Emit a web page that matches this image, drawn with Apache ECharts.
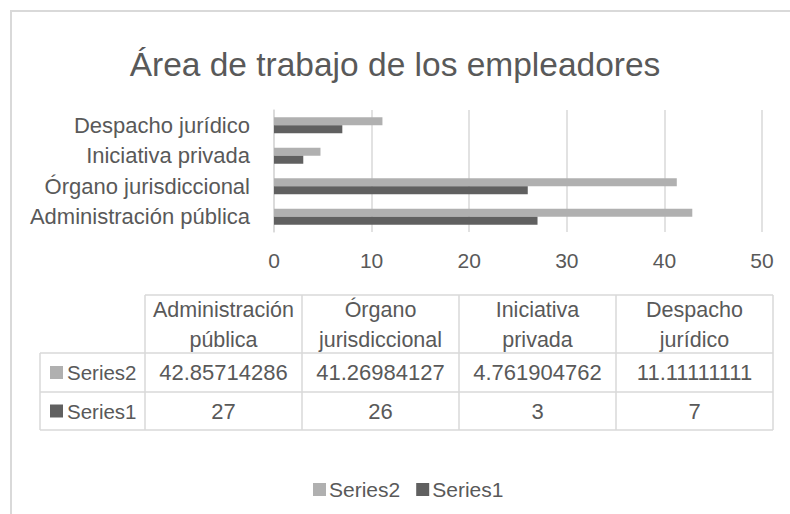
<!DOCTYPE html>
<html>
<head>
<meta charset="utf-8">
<script src="https://cdn.jsdelivr.net/npm/echarts@6/dist/echarts.min.js"></script>
<style>
  html, body { margin: 0; padding: 0; background: #fff; }
  #chart { width: 790px; height: 514px; }
</style>
</head>
<body>
<div id="chart"></div>
<script>
// datos
const categories = ['Administración pública', 'Órgano jurisdiccional', 'Iniciativa privada', 'Despacho jurídico'];
const series1 = [27, 26, 3, 7];
const series2 = [42.85714286, 41.26984127, 4.761904762, 11.11111111];
const seriesNames = ['Series2', 'Series1'];
const xTicks = [0, 10, 20, 30, 40, 50];

const TEXT = '#595959';
const LINE = '#d9d9d9';
const LIGHT = '#b0b0b0';
const DARK = '#606060';
const FONT = '"Liberation Sans", Arial, sans-serif';

// tabla de datos (debajo del gráfico)
function buildTable () {
  const els = [];
  const x0 = 40, x1 = 145, xEnd = 773;
  const colW = (xEnd - x1) / categories.length;
  const yTop = 295, yHead = 353, yMid = 392, yBot = 430;
  const ln = (a, b, c, d) => ({
    type: 'line', silent: true,
    shape: { x1: a, y1: b, x2: c, y2: d },
    style: { stroke: LINE, lineWidth: 1.5 }
  });
  els.push(ln(x1, yTop, xEnd, yTop));
  els.push(ln(x0, yHead, xEnd, yHead));
  els.push(ln(x0, yMid, xEnd, yMid));
  els.push(ln(x0, yBot, xEnd, yBot));
  els.push(ln(x0, yHead, x0, yBot));
  for (let i = 0; i <= categories.length; i++) {
    els.push(ln(x1 + colW * i, yTop, x1 + colW * i, yBot));
  }
  const txt = (x, y, s, size, align) => ({
    type: 'text', silent: true, x: x, y: y,
    style: { text: s, fill: TEXT, font: size + 'px ' + FONT, align: align || 'center', verticalAlign: 'middle', lineHeight: 30 }
  });
  categories.forEach((c, i) => {
    els.push(txt(x1 + colW * (i + 0.5), (yTop + yHead) / 2 + 1, c.replace(' ', '\n'), 21.5));
  });
  const rows = [[seriesNames[0], series2, LIGHT, yHead, yMid], [seriesNames[1], series1, DARK, yMid, yBot]];
  rows.forEach(r => {
    const cy = (r[3] + r[4]) / 2;
    els.push({ type: 'rect', silent: true, shape: { x: 50, y: cy - 6.5, width: 13, height: 13 }, style: { fill: r[2] } });
    els.push(txt(67, cy, r[0], 20.5, 'left'));
    r[1].forEach((v, i) => {
      els.push(txt(x1 + colW * (i + 0.5), cy, String(v), 22));
    });
  });
  // borde exterior
  els.push({ type: 'polyline', silent: true, shape: { points: [[11, 520], [11, 11], [800, 11]] }, style: { stroke: LINE, lineWidth: 2, fill: null } });
  return els;
}

const chart = echarts.init(document.getElementById('chart'), null, { renderer: 'svg' });
chart.setOption({
  backgroundColor: '#fff',
  animation: false,
  textStyle: { fontFamily: FONT },
  title: {
    text: 'Área de trabajo de los empleadores',
    left: 'center',
    top: 42,
    textStyle: { color: TEXT, fontSize: 33.5, fontWeight: 'normal', fontFamily: FONT }
  },
  legend: {
    data: seriesNames,
    left: 308,
    top: 474,
    icon: 'rect',
    itemWidth: 13,
    itemHeight: 13,
    itemGap: 16,
    textStyle: { color: TEXT, fontSize: 21, fontFamily: FONT, padding: [0, 0, 0, -2] }
  },
  grid: { left: 274, right: 28, top: 110, height: 122 },
  xAxis: {
    type: 'value',
    min: 0,
    max: 50,
    interval: xTicks[1] - xTicks[0],
    axisLine: { show: false },
    axisTick: { show: false },
    splitLine: { lineStyle: { color: LINE, width: 1.5 } },
    axisLabel: { color: TEXT, fontSize: 21, margin: 18, fontFamily: FONT }
  },
  yAxis: {
    type: 'category',
    data: categories,
    axisLine: { lineStyle: { color: LINE, width: 1.5 } },
    axisTick: { show: false },
    axisLabel: { color: TEXT, fontSize: 22, margin: 24, fontFamily: FONT }
  },
  series: [
    { name: 'Series2', type: 'bar', data: series2, barWidth: 8, barGap: '0%', itemStyle: { color: LIGHT } },
    { name: 'Series1', type: 'bar', data: series1, barWidth: 8, barGap: '0%', itemStyle: { color: DARK } }
  ],
  graphic: buildTable()
});
</script>
</body>
</html>
